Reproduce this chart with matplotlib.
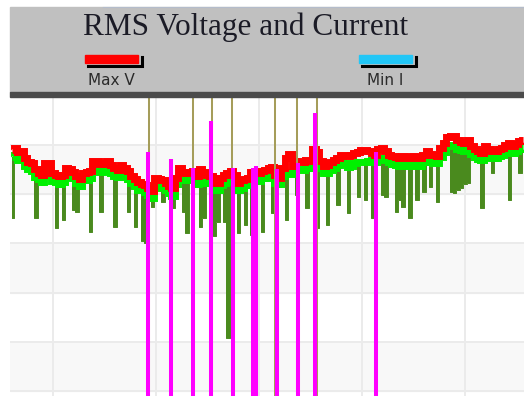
import numpy as np
import matplotlib
matplotlib.use("Agg")
import matplotlib.pyplot as plt
from matplotlib.patches import Rectangle
from matplotlib.lines import Line2D

W, H = 524, 396

# one sample every 2 minutes, time in hours
t0 = -0.4
dt = 1.0 / 30

max_v = [49.0, 49.4, 48.6, 48.8, 47.4, 46.5, 46.3, 45.1, 44.3, 43.9,
         46.3, 46.3, 44.3, 43.9, 43.7, 43.9, 45.3, 45.1, 44.5, 43.7,
         43.1, 44.3, 44.5, 44.7, 46.8, 46.8, 46.1, 46.3, 46.8, 45.9,
         45.3, 44.9, 45.9, 45.3, 44.7, 43.7, 43.1, 42.5, 42.1, 41.9,
         41.3, 40.6, 43.3, 43.1, 42.9, 42.3, 41.7, 41.3, 43.3, 45.3,
         44.5, 44.3, 44.5, 44.7, 43.7, 45.1, 44.5, 43.9, 43.7, 43.3,
         42.3, 43.3, 43.9, 44.3, 44.7, 43.9, 42.3, 42.9, 43.1, 43.3,
         44.5, 44.3, 44.3, 44.7, 44.9, 45.3, 45.5, 43.9, 43.3, 45.3,
         47.4, 48.2, 45.7, 46.8, 46.5, 46.5, 47.0, 46.8, 49.2, 48.6,
         46.8, 45.7, 45.9, 46.5, 47.0, 47.4, 48.0, 48.0, 47.8, 48.0,
         48.4, 48.6, 49.0, 49.0, 48.8, 48.4, 48.0, 49.2, 49.4, 48.8,
         48.0, 47.8, 47.6, 47.4, 47.8, 47.6, 47.4, 47.8, 47.6, 47.4,
         48.0, 48.8, 48.2, 48.0, 47.8, 49.4, 50.4, 51.6, 51.8, 51.8,
         51.0, 50.6, 50.4, 51.0, 49.8, 49.2, 48.8, 48.4, 49.8, 49.2,
         48.8, 48.8, 49.2, 49.4, 50.0, 50.4, 49.8, 50.2, 50.8, 51.0]

avg_v = [47.5, 48.0, 47.0, 47.3, 45.7, 45.1, 44.8, 43.5, 43.0, 42.4,
         44.8, 44.9, 42.7, 42.4, 42.0, 42.5, 43.8, 43.5, 43.2, 42.2,
         41.6, 42.9, 42.9, 43.2, 45.1, 45.4, 44.6, 44.7, 45.5, 44.4,
         43.8, 43.5, 44.3, 43.8, 43.0, 42.3, 41.6, 40.9, 40.8, 40.4,
         39.8, 39.2, 41.7, 41.6, 41.2, 40.9, 40.2, 39.7, 42.0, 43.8,
         43.0, 42.9, 42.9, 43.2, 42.0, 43.7, 43.0, 42.3, 42.4, 41.8,
         40.8, 41.9, 42.3, 42.8, 43.0, 42.5, 40.8, 41.3, 41.8, 41.8,
         43.0, 42.9, 42.7, 43.2, 43.2, 43.9, 44.0, 42.3, 42.0, 43.8,
         44.3, 44.5, 44.2, 45.1, 45.1, 45.0, 45.3, 45.3, 46.0, 46.3,
         45.3, 44.3, 44.3, 45.0, 45.3, 46.0, 46.5, 46.4, 45.5, 45.8,
         46.3, 46.6, 46.6, 46.6, 46.8, 47.0, 46.5, 47.2, 47.4, 47.0,
         46.6, 46.1, 46.0, 45.8, 46.2, 45.9, 45.8, 46.2, 45.9, 45.8,
         46.5, 47.2, 46.6, 46.4, 46.3, 47.6, 48.6, 49.8, 50.0, 50.0,
         49.2, 49.0, 48.8, 49.3, 48.2, 47.6, 47.2, 46.9, 48.0, 47.6,
         47.3, 47.3, 47.7, 47.9, 48.4, 48.9, 48.3, 48.7, 49.2, 49.5]

min_v = [35.2, 47.5, 46.5, 46.8, 45.2, 44.6, 44.3, 35.2, 42.5, 41.9,
         44.3, 44.4, 42.2, 33.1, 41.5, 34.8, 43.3, 43.0, 36.8, 36.4,
         41.1, 42.4, 42.4, 32.3, 44.6, 44.9, 36.4, 44.2, 45.0, 43.9,
         33.4, 43.0, 43.8, 43.3, 36.4, 41.8, 33.4, 40.4, 30.5, 30.1,
         39.3, 37.4, 41.2, 41.1, 38.4, 40.4, 39.7, 37.2, 41.5, 43.3,
         36.4, 32.1, 42.4, 42.7, 41.5, 33.4, 35.2, 41.8, 41.9, 31.5,
         34.4, 41.4, 34.4, 10.8, 42.5, 42.0, 32.1, 40.8, 33.7, 41.3,
         31.7, 42.4, 42.2, 32.3, 42.7, 43.4, 36.2, 41.8, 41.5, 43.3,
         34.8, 44.0, 43.7, 39.8, 44.6, 44.5, 37.2, 44.8, 45.5, 33.1,
         44.8, 43.8, 33.7, 44.5, 44.8, 37.8, 46.0, 45.9, 36.2, 45.3,
         45.8, 39.4, 46.1, 38.8, 46.3, 35.2, 46.0, 46.7, 39.8, 39.4,
         46.1, 45.6, 36.4, 38.8, 37.4, 45.4, 35.2, 45.7, 38.8, 45.3,
         40.4, 46.7, 41.5, 45.9, 38.4, 47.1, 48.1, 49.3, 40.4, 40.2,
         40.8, 41.2, 42.0, 42.3, 47.7, 47.1, 46.7, 37.2, 47.5, 47.1,
         44.3, 46.8, 47.2, 47.4, 47.9, 38.8, 47.8, 48.2, 44.3, 49.0]

# current peaks (magenta) and current events (olive), time in hours
max_i_t = [0.92, 1.15, 1.36, 1.53, 1.75, 1.94, 1.97, 2.17, 2.38, 2.54, 3.14]
max_i = [48.6, 47.2, 45.3, 54.9, 45.3, 45.3, 45.7, 45.1, 46.3, 56.5, 48.6]
event_t = [0.93, 1.36, 1.54, 1.74, 2.16, 2.37, 2.56]

t = t0 + dt * np.arange(len(max_v))


def fx(px):
    return px / W


def fy(py):
    return 1 - py / H


fig = plt.figure(figsize=(W / 100, H / 100), dpi=100)
fig.patch.set_facecolor("white")

# header panel
fig.patches.append(Rectangle((fx(10), fy(92)), fx(514), (92 - 7) / H,
                             transform=fig.transFigure, color="#c0c0c0", zorder=0))
fig.patches.append(Rectangle((fx(10), fy(97)), fx(514), 5 / H,
                             transform=fig.transFigure, color="#4b4b4b", zorder=1))
fig.lines.append(Line2D([fx(103), fx(524)], [fy(6.5), fy(6.5)], transform=fig.transFigure,
                        color="#b4bccb", lw=0.8))

fig.text(fx(245.5), fy(35), "RMS Voltage and Current", family="Liberation Serif",
         fontsize=22.5, color="#1b1b26", ha="center", va="baseline")

# legend entries
for x0, col, lab in [(85, "#ff0000", "Max V"), (359, "#22c6f6", "Min I")]:
    fig.patches.append(Rectangle((fx(x0), fy(62.5)), fx(53), 7.5 / H,
                                 transform=fig.transFigure, color=col, zorder=2))
    fig.lines.append(Line2D([fx(x0 + 3), fx(x0 + 56.5), fx(x0 + 56.5)],
                            [fy(66.3), fy(66.3), fy(57)], transform=fig.transFigure,
                            color="black", lw=2.2, solid_joinstyle="miter"))
    fig.text(fx(x0 + 26.5), fy(85), lab, family="DejaVu Sans", fontsize=11,
             color="#2a2a2a", ha="center", va="baseline")

ax = fig.add_axes([fx(10), 0, fx(514), (H - 97) / H])
ax.set_xlim(-0.4175, 4.573)
ax.set_ylim(-1.02, 59.76)
for s in ax.spines.values():
    s.set_visible(False)
ax.set_xticks([])
ax.set_yticks([])

# alternating bands and grid
for lo in [0, 20, 40]:
    ax.axhspan(lo, lo + 10, color="#f8f8f8", zorder=0)
for g in range(0, 60, 10):
    ax.axhline(g, color="#ebebeb", lw=1.4, zorder=0.5)
for g in range(5):
    ax.axvline(g, color="#ebebeb", lw=1.4, zorder=0.5)

# min voltage drops drawn as solid bars under the average trace
ax.fill_between(t, min_v, avg_v, step="mid", color="#4a8a1e", lw=0, zorder=2)
ax.plot(t, min_v, drawstyle="steps-mid", color="#4a8a1e", lw=0.7, zorder=2)
ax.plot(t, avg_v, drawstyle="steps-mid", color="#00f000", lw=5.0, zorder=3,
        solid_joinstyle="miter", solid_capstyle="butt")
ax.plot(t, max_v, drawstyle="steps-mid", color="#ff0000", lw=5.0, zorder=4,
        solid_joinstyle="miter", solid_capstyle="butt")

ax.vlines(event_t, -5, 70, color="#a59d5a", lw=1.45, zorder=5)
ax.vlines(max_i_t, -5, max_i, color="#ff00ff", lw=2.9, zorder=6)

fig.savefig("out.png", dpi=100)
